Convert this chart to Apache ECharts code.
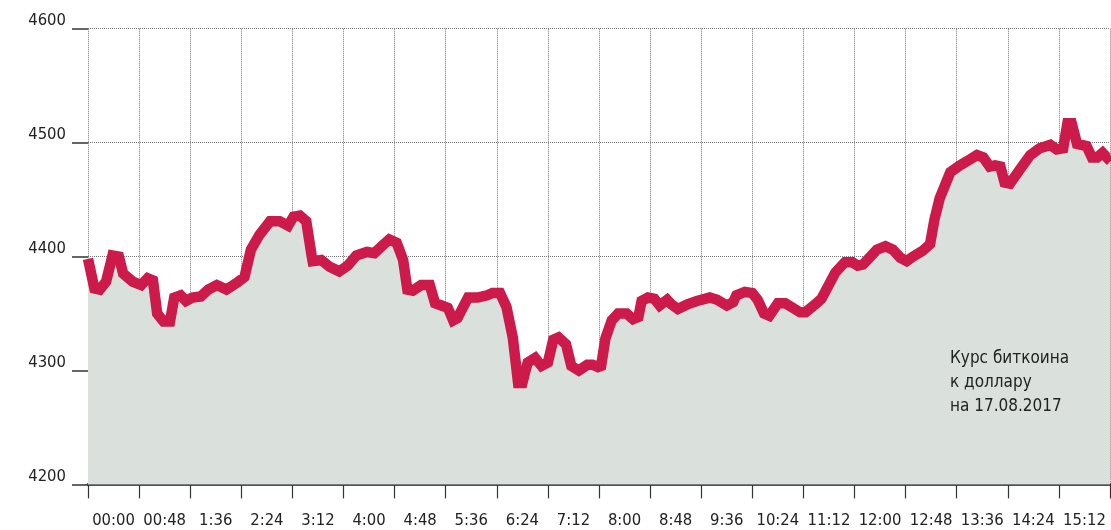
<!DOCTYPE html>
<html>
<head>
<meta charset="utf-8">
<script src="https://cdn.jsdelivr.net/npm/echarts@6/dist/echarts.min.js"></script>
<style>
html,body{margin:0;padding:0;background:#fff;}
#chart{width:1111px;height:530px;}
</style>
</head>
<body>
<div id="chart"></div>
<script>
// Tick labels (20 bands of 48 minutes)
var timeLabels = ['00:00','00:48','1:36','2:24','3:12','4:00','4:48','5:36','6:24','7:12','8:00','8:48','9:36','10:24','11:12','12:00','12:48','13:36','14:24','15:12'];
// Time of each point, minutes since 00:00
var minutes = [0,6,11,17,23,29,33,42,50,56,61,65,71,77,81,87,92,98,106,113,121,130,140,147,153,161,171,180,188,193,199,205,210,211,219,227,236,244,252,262,269,277,283,290,296,300,305,313,321,326,332,338,343,347,357,366,375,380,387,393,399,404,408,413,420,426,432,437,442,449,454,461,469,474,479,482,486,492,498,506,512,517,520,526,532,537,544,548,554,563,572,584,591,600,606,609,617,624,629,635,640,648,655,669,674,683,689,702,711,718,723,728,733,741,749,756,763,769,775,784,791,795,800,810,819,828,835,841,847,852,857,861,866,875,885,894,904,910,916,920,924,929,938,943,948,953,957,960];
// BTC/USD price
var prices = [4398,4372,4371,4378,4401,4400,4385,4378,4375,4381,4379,4350,4343,4343,4364,4366,4361,4364,4365,4371,4375,4371,4377,4382,4406,4419,4431,4431,4427,4435,4436,4431,4401,4396,4397,4391,4387,4392,4401,4404,4403,4410,4415,4412,4397,4371,4370,4375,4375,4359,4357,4355,4344,4346,4364,4364,4366,4368,4368,4356,4329,4289,4289,4307,4311,4304,4307,4327,4329,4323,4304,4300,4305,4305,4303,4304,4328,4344,4350,4350,4345,4347,4361,4364,4363,4357,4362,4358,4354,4358,4361,4364,4362,4357,4360,4366,4369,4368,4362,4350,4348,4359,4359,4351,4351,4358,4363,4386,4395,4395,4392,4393,4398,4406,4409,4406,4399,4396,4400,4405,4411,4432,4451,4474,4480,4485,4489,4487,4479,4480,4479,4465,4464,4476,4489,4495,4498,4494,4495,4517,4517,4499,4497,4487,4487,4491,4487,4490];
var yTicks = [4200, 4300, 4400, 4500, 4600];
var noteLines = ['Курс биткоина', 'к доллару', 'на 17.08.2017'];

var FONT = '"DejaVu Sans Condensed", "Liberation Sans Narrow", sans-serif';
var points = minutes.map(function (m, i) { return [m, prices[i]]; });

var chart = echarts.init(document.getElementById('chart'), null, {renderer: 'canvas'});
chart.setOption({
  animation: false,
  backgroundColor: '#ffffff',
  grid: {left: 88, right: 1, top: 28.7, bottom: 45.6, containLabel: false},
  xAxis: [{
    type: 'category',
    data: timeLabels,
    boundaryGap: true,
    axisLine: {show: true, lineStyle: {color: '#1a1a1a', width: 2.5}},
    axisTick: {show: true, length: 14, lineStyle: {color: '#333', width: 1.2}},
    axisLabel: {show: true, margin: 28, color: '#222', fontFamily: FONT, fontSize: 16.5, interval: 0},
    splitLine: {show: true, lineStyle: {color: '#777', type: [1, 1], width: 1}}
  }, {
    type: 'value',
    min: 0, max: 960,
    show: false
  }],
  yAxis: {
    type: 'value',
    min: yTicks[0], max: yTicks[yTicks.length - 1], interval: 100,
    axisLine: {show: false},
    axisTick: {show: true, length: 16, lineStyle: {color: '#333', width: 1.5}},
    axisLabel: {
      margin: 22, color: '#222', fontFamily: FONT, fontSize: 16.5,
      verticalAlign: 'bottom', lineHeight: 16, padding: [0, 0, 0, 0],
      formatter: function (v) { return String(v); }
    },
    splitLine: {show: true, lineStyle: {color: '#777', type: [1, 1], width: 1}}
  },
  series: [{
    type: 'line',
    xAxisIndex: 1,
    data: points,
    showSymbol: false,
    symbol: 'none',
    clip: true,
    lineStyle: {color: '#cc1a4b', width: 10.5, join: 'miter', cap: 'butt'},
    areaStyle: {color: '#dae0dc', opacity: 1, origin: 'start'},
    z: 3
  }],
  graphic: [{
    type: 'rect',
    left: 938, top: 338,
    shape: {width: 142, height: 88},
    style: {fill: '#dae0dc'},
    z: 10
  }, {
    type: 'text',
    left: 950, top: 347,
    style: {
      text: noteLines.join('\n'),
      font: '17px ' + FONT,
      fill: '#222',
      lineHeight: 24
    },
    z: 11
  }]
});
</script>
</body>
</html>
